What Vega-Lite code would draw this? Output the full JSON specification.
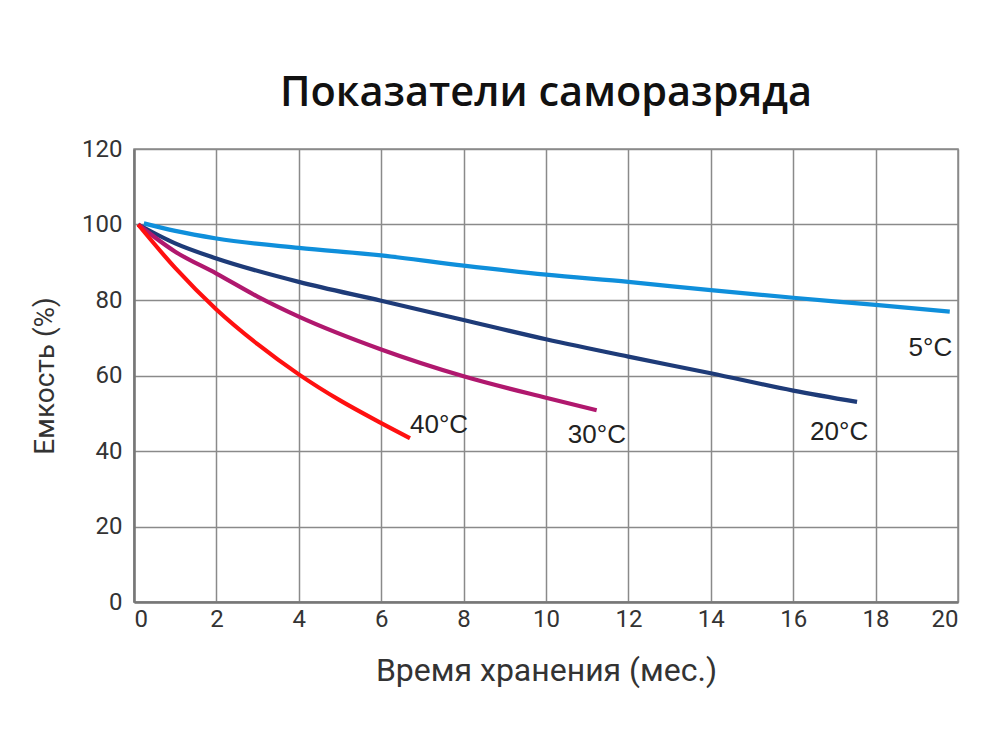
{
  "$schema": "https://vega.github.io/schema/vega-lite/v6.json",
  "width": 824,
  "height": 453,
  "autosize": {"type": "none"},
  "padding": {"left": 134, "top": 149, "right": 42, "bottom": 148},
  "background": "white",
  "title": {
    "text": "Показатели саморазряда",
    "font": "Open Sans",
    "fontSize": 41.5,
    "fontWeight": 600,
    "color": "#111111",
    "anchor": "middle",
    "offset": 23
  },
  "config": {
    "view": {"stroke": "#8a8a8a", "strokeWidth": 1.5},
    "axis": {
      "labelFont": "Roboto",
      "titleFont": "Roboto",
      "labelColor": "#333333",
      "titleColor": "#333333",
      "labelFontSize": 24,
      "titleFontWeight": "normal",
      "gridColor": "#8a8a8a",
      "gridWidth": 1.5,
      "gridOpacity": 1,
      "domainColor": "#777777",
      "domainWidth": 2.5,
      "ticks": false
    }
  },
  "data": {
    "values": [
      {"t": 0.24, "c": 100.3, "s": "5°C"},
      {"t": 1, "c": 98.3, "s": "5°C"},
      {"t": 2, "c": 96.3, "s": "5°C"},
      {"t": 4, "c": 93.8, "s": "5°C"},
      {"t": 6, "c": 91.8, "s": "5°C"},
      {"t": 8, "c": 89.1, "s": "5°C"},
      {"t": 10, "c": 86.7, "s": "5°C"},
      {"t": 12, "c": 84.8, "s": "5°C"},
      {"t": 14, "c": 82.6, "s": "5°C"},
      {"t": 16, "c": 80.6, "s": "5°C"},
      {"t": 18, "c": 78.7, "s": "5°C"},
      {"t": 19.8, "c": 76.9, "s": "5°C"},
      {"t": 0.1, "c": 100, "s": "20°C"},
      {"t": 1, "c": 95.0, "s": "20°C"},
      {"t": 2, "c": 91.0, "s": "20°C"},
      {"t": 4, "c": 84.8, "s": "20°C"},
      {"t": 6, "c": 79.8, "s": "20°C"},
      {"t": 8, "c": 74.7, "s": "20°C"},
      {"t": 10, "c": 69.6, "s": "20°C"},
      {"t": 12, "c": 65.0, "s": "20°C"},
      {"t": 14, "c": 60.6, "s": "20°C"},
      {"t": 16, "c": 56.0, "s": "20°C"},
      {"t": 17.55, "c": 53.0, "s": "20°C"},
      {"t": 0.1, "c": 100, "s": "30°C"},
      {"t": 1, "c": 92.8, "s": "30°C"},
      {"t": 2, "c": 87.0, "s": "30°C"},
      {"t": 3, "c": 80.9, "s": "30°C"},
      {"t": 4, "c": 75.6, "s": "30°C"},
      {"t": 6, "c": 66.9, "s": "30°C"},
      {"t": 8, "c": 59.8, "s": "30°C"},
      {"t": 10, "c": 54.1, "s": "30°C"},
      {"t": 11.23, "c": 50.8, "s": "30°C"},
      {"t": 0.1, "c": 100, "s": "40°C"},
      {"t": 1, "c": 88.5, "s": "40°C"},
      {"t": 2, "c": 77.5, "s": "40°C"},
      {"t": 3, "c": 68.3, "s": "40°C"},
      {"t": 4, "c": 60.3, "s": "40°C"},
      {"t": 5, "c": 53.4, "s": "40°C"},
      {"t": 6, "c": 47.4, "s": "40°C"},
      {"t": 6.7, "c": 43.4, "s": "40°C"}
    ]
  },
  "layer": [
    {
      "mark": {"type": "line", "strokeWidth": 4.2, "interpolate": "monotone", "strokeCap": "butt"},
      "encoding": {
        "x": {
          "field": "t", "type": "quantitative",
          "scale": {"domain": [0, 20], "nice": false},
          "axis": {"values": [0, 2, 4, 6, 8, 10, 12, 14, 16, 18, 20], "title": "Время хранения (мес.)", "titleFontSize": 32, "titlePadding": 24, "labelPadding": 5, "grid": true}
        },
        "y": {
          "field": "c", "type": "quantitative",
          "scale": {"domain": [0, 120], "nice": false},
          "axis": {"values": [0, 20, 40, 60, 80, 100, 120], "title": "Емкость (%)", "titleFontSize": 28, "titlePadding": 22, "labelPadding": 12, "grid": true}
        },
        "color": {
          "field": "s", "type": "nominal",
          "scale": {"domain": ["5°C", "20°C", "30°C", "40°C"], "range": ["#0f8fdb", "#1e3b78", "#b0186e", "#ff1010"]},
          "legend": null
        },
        "detail": {"field": "s"}
      }
    },
    {
      "data": {
        "values": [
          {"t": 19.86, "c": 67.3, "label": "5°C"},
          {"t": 17.82, "c": 45.0, "label": "20°C"},
          {"t": 11.94, "c": 44.2, "label": "30°C"},
          {"t": 8.11, "c": 46.9, "label": "40°C"}
        ]
      },
      "mark": {"type": "text", "align": "right", "baseline": "middle", "font": "Liberation Sans", "fontSize": 26, "color": "#222222"},
      "encoding": {
        "x": {"field": "t", "type": "quantitative"},
        "y": {"field": "c", "type": "quantitative"},
        "text": {"field": "label"}
      }
    }
  ]
}
